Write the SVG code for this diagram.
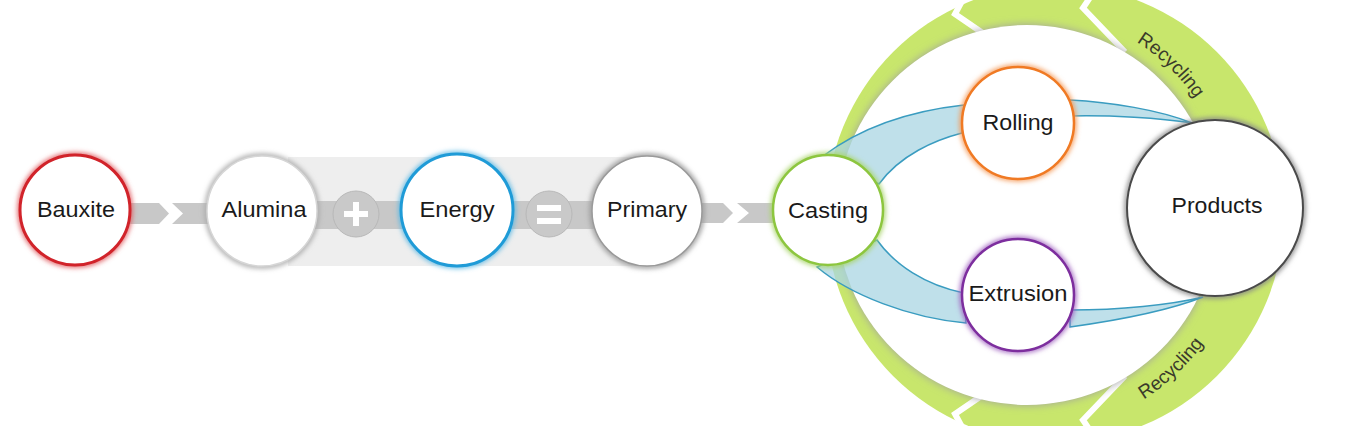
<svg xmlns="http://www.w3.org/2000/svg" width="1348" height="426" viewBox="0 0 1348 426">
<defs>
<style>
.lbl{font-family:"Liberation Sans",Arial,sans-serif;font-size:22px;fill:#1a1a1a;text-anchor:middle}
.rec{font-family:"Liberation Sans",Arial,sans-serif;font-size:19px;fill:#3a3a2a}
.band{fill:#c8c8c8}
.flow{fill:#a9d6e3;fill-opacity:0.75;stroke:#3a9cc0;stroke-width:1.5}
.gap{fill:none;stroke:#fff;stroke-width:6;stroke-linejoin:miter}
.node{fill:#fff}
.halo{fill:none;stroke-width:5}
</style>
<filter id="blur" x="-20%" y="-20%" width="140%" height="140%"><feGaussianBlur stdDeviation="2.5"/></filter>
<filter id="bigblur" x="-20%" y="-20%" width="140%" height="140%"><feGaussianBlur stdDeviation="4"/></filter>
<clipPath id="gclip">
<rect x="0" y="0" width="1000" height="426"/>
<rect x="1000" y="0" width="348" height="143"/>
<rect x="1000" y="266" width="348" height="160"/>
</clipPath>
<path id="arcTop" d="M1058.9,12.5 A204,204 0 0 1 1227.3,175.1"/>
<path id="arcBot" d="M1057.5,430.9 A219,219 0 0 0 1241.2,259.5"/>
</defs>

<g id="background">
<rect x="288" y="157" width="360" height="109" fill="#eeeeee"/>
</g>

<g id="connectors">
<polygon class="band" points="125,203 159,203 169,213.5 159,224 125,224"/>
<polygon class="band" points="172,203 215,203 215,224 172,224 183,213.5"/>
<rect class="band" x="300" y="201" width="320" height="28"/>
<polygon class="band" points="695,203 723,203 733,213 723,223 695,223"/>
<polygon class="band" points="737,203 780,203 780,223 737,223 749,213"/>
<g id="recycle-ring">
<circle cx="1055" cy="214" r="229" fill="#c8e66c" clip-path="url(#gclip)"/>
<path class="gap" d="M968,-10 L955,14 L990,38"/>
<path class="gap" d="M1095,-10 L1083,8 L1125,52"/>
<path class="gap" d="M968,438 L955,414 L990,390"/>
<path class="gap" d="M1095,438 L1083,420 L1125,376"/>
<circle cx="1027" cy="215" r="190" fill="#a0a0a0" filter="url(#bigblur)"/>
<circle cx="1027" cy="215" r="190" fill="#fff"/>
</g>
<path class="flow" d="M823,156 C855,132 900,112 964,105 L962,133 C935,140 900,155 879,184 Z"/>
<path class="flow" d="M1070,100 C1110,102 1160,110 1192,123 C1160,118 1110,115 1070,116 Z"/>
<path class="flow" d="M877,240 C895,265 925,285 964,293 L966,323 C910,318 850,295 817,267 Z"/>
<path class="flow" d="M1070,310 C1120,310 1170,305 1203,297 C1170,310 1120,320 1070,327 Z"/>
<text class="rec"><textPath href="#arcTop" startOffset="50%" text-anchor="middle">Recycling</textPath></text>
<text class="rec"><textPath href="#arcBot" startOffset="50%" text-anchor="middle">Recycling</textPath></text>
</g>

<g id="plus">
<circle cx="356" cy="214" r="23" fill="#c9c9c9" stroke="#b8b8b8" stroke-width="1"/>
<rect x="344" y="211" width="24" height="6" fill="#fff"/>
<rect x="353" y="202" width="6" height="24" fill="#fff"/>
</g>
<g id="equals">
<circle cx="549" cy="214" r="23" fill="#c9c9c9" stroke="#b8b8b8" stroke-width="1"/>
<rect x="537" y="205" width="24" height="6" fill="#fff"/>
<rect x="537" y="218" width="24" height="6" fill="#fff"/>
</g>

<g id="bauxite">
<circle class="halo" cx="75" cy="210" r="55" stroke="#e05a5e" filter="url(#blur)"/>
<circle class="node" cx="75" cy="210" r="55" stroke="#d1232a" stroke-width="3"/>
<text class="lbl" x="76" y="217" textLength="78" lengthAdjust="spacingAndGlyphs">Bauxite</text>
</g>
<g id="alumina">
<circle class="halo" cx="262" cy="211" r="55" stroke="#aaaaaa" filter="url(#blur)"/>
<circle class="node" cx="262" cy="211" r="55" stroke="#d6d6d6" stroke-width="1.5"/>
<text class="lbl" x="264" y="217" textLength="85" lengthAdjust="spacingAndGlyphs">Alumina</text>
</g>
<g id="energy">
<circle class="halo" cx="457" cy="210" r="56" stroke="#5ab8e4" filter="url(#blur)"/>
<circle class="node" cx="457" cy="210" r="56" stroke="#1f9bd7" stroke-width="3"/>
<text class="lbl" x="457" y="217" textLength="75" lengthAdjust="spacingAndGlyphs">Energy</text>
</g>
<g id="primary">
<circle class="halo" cx="647" cy="211" r="55" stroke="#999999" filter="url(#blur)"/>
<circle class="node" cx="647" cy="211" r="55" stroke="#9a9a9a" stroke-width="1.5"/>
<text class="lbl" x="647" y="217" textLength="80" lengthAdjust="spacingAndGlyphs">Primary</text>
</g>
<g id="casting">
<circle class="halo" cx="828" cy="210" r="55" stroke="#a8d46a" filter="url(#blur)"/>
<circle class="node" cx="828" cy="210" r="55" stroke="#8dc63f" stroke-width="2.5"/>
<text class="lbl" x="828" y="218" textLength="80" lengthAdjust="spacingAndGlyphs">Casting</text>
</g>
<g id="rolling">
<circle class="halo" cx="1018" cy="123" r="56" stroke="#f59a58" filter="url(#blur)"/>
<circle class="node" cx="1018" cy="123" r="56" stroke="#f07a24" stroke-width="2.5"/>
<text class="lbl" x="1018" y="130" textLength="71" lengthAdjust="spacingAndGlyphs">Rolling</text>
</g>
<g id="extrusion">
<circle class="halo" cx="1018" cy="295" r="56" stroke="#a062c0" filter="url(#blur)"/>
<circle class="node" cx="1018" cy="295" r="56" stroke="#7d2e9e" stroke-width="2.5"/>
<text class="lbl" x="1018" y="301" textLength="99" lengthAdjust="spacingAndGlyphs">Extrusion</text>
</g>
<g id="products">
<circle class="halo" cx="1215" cy="208" r="88" stroke="#888888" filter="url(#blur)"/>
<circle class="node" cx="1215" cy="208" r="88" stroke="#4a4a4a" stroke-width="2"/>
<text class="lbl" x="1217" y="213" textLength="91" lengthAdjust="spacingAndGlyphs">Products</text>
</g>
</svg>
